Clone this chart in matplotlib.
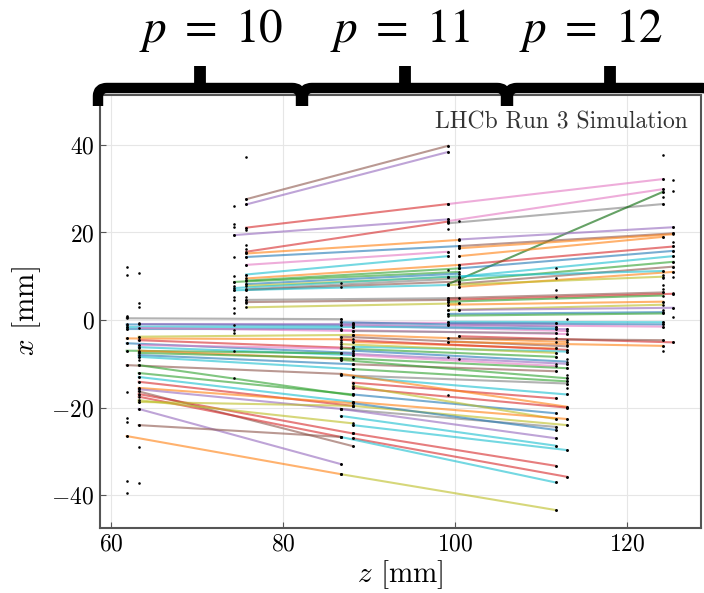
import matplotlib
matplotlib.use('Agg')
import matplotlib.pyplot as plt
from matplotlib.path import Path
from matplotlib.patches import PathPatch

# --- DATA ---
# z position (mm) of every detector layer
LAYER_Z = [61.8, 63.2, 74.3, 75.7, 86.7, 88.1, 99.2, 100.5, 111.7, 113.0, 124.2, 125.4]

# hits (x in mm) seen on each layer, same order as LAYER_Z
HITS_X = [
    [12.2, 10.2, 1.0, 0.6, -1.1, -1.5, -2.0, -4.2, -5.3, -7.0, -10.3, -16.5, -22.4, -23.2, -26.5, -36.7, -39.6],
    [10.7, 4.0, 3.0, -0.7, -3.8, -4.6, -5.7, -6.5, -7.3, -8.4, -9.1, -10.3, -12.1, -13.0, -14.1, -15.5,
     -16.3, -17.2, -18.7, -20.3, -24.0, -29.0, -37.3],
    [26.1, 21.9, 21.3, 19.4, 14.5, 10.1, 8.7, 7.8, 6.9, 5.3, 4.6, 2.7, 1.6, -1.1, -2.3, -3.0, -7.0, -13.3],
    [37.2, 27.6, 26.4, 21.1, 20.6, 17.1, 16.2, 15.2, 14.3, 12.6, 10.3, 9.2, 8.2, 6.9, 5.3, 4.5, 3.8],
    [8.4, 7.6, 0.2, -0.5, -1.2, -2.3, -3.8, -5.0, -6.0, -7.6, -8.7, -9.1, -12.6, -20.3, -21.9, -26.7, -32.9, -35.2],
    [-0.6, -1.5, -2.5, -3.4, -5.0, -6.1, -7.0, -8.0, -10.1, -11.2, -13.0, -14.3, -15.5, -17.0, -18.7, -19.6,
     -24.0, -25.9, -27.0, -28.8],
    [39.8, 38.4, 26.5, 23.0, 22.5, 20.8, 15.6, 14.6, 11.4, 9.9, 8.0, 5.0, 4.2, 3.5, 2.3, 1.4, -0.4, -1.1,
     -5.0, -8.5, -17.2],
    [22.6, 18.3, 16.9, 16.4, 14.6, 12.6, 11.8, 9.9, 8.8, 7.6, 3.8, 2.3, -3.7, -9.0],
    [11.8, 9.5, 6.9, 5.3, -0.7, -1.5, -2.0, -3.0, -4.0, -5.0, -6.5, -7.5, -8.4, -10.0, -11.7, -17.9, -21.3,
     -22.6, -24.4, -25.1, -27.0, -28.7, -33.3, -37.1, -43.4],
    [0.2, -2.1, -3.2, -4.5, -5.8, -6.8, -7.2, -8.8, -10.0, -11.0, -12.5, -13.3, -14.0, -14.5, -15.5, -17.0,
     -19.8, -20.0, -22.6, -24.0, -29.7, -35.8],
    [37.6, 32.2, 29.9, 29.3, 28.2, 26.5, 19.0, 11.2, 10.3, 9.5, 8.0, 7.2, 6.5, 4.2, 2.3, 1.5, -0.4, -1.0,
     -1.5, -4.6, -5.9, -7.0],
    [32.0, 29.5, 21.2, 19.8, 17.9, 16.8, 15.8, 14.6, 13.3, 12.2, 11.0, 9.9, 6.2, 5.9, 2.8, 0.6, -5.1],
]

# track segments: (start layer, x start, end layer, x end)
SEGS_A = [(0, 0.4, 4, 0.2), (0, -1.0, 5, -1.2), (0, -1.5, 5, -1.5), (1, -0.8, 5, -0.8), (0, -2.0, 4, -2.0),
          (1, -1.8, 5, -2.5), (0, -4.2, 5, -4.4), (1, -3.8, 5, -3.4), (1, -4.6, 5, -6.4), (0, -5.3, 5, -7.5),
          (1, -5.7, 4, -6.5), (1, -6.2, 5, -8.0), (0, -7.0, 4, -7.6), (1, -7.0, 5, -9.0), (1, -7.5, 4, -8.7),
          (1, -8.0, 5, -10.1), (1, -8.4, 5, -11.2), (0, -10.3, 4, -12.3), (1, -10.3, 5, -17.2),
          (1, -12.1, 5, -17.0), (1, -13.0, 5, -18.7), (1, -14.1, 5, -19.6), (1, -15.5, 5, -19.0),
          (1, -15.8, 4, -20.3), (1, -16.3, 5, -28.8), (1, -16.9, 5, -25.9), (1, -17.5, 4, -26.7),
          (1, -18.3, 5, -23.6), (1, -18.7, 5, -19.6), (1, -20.3, 4, -32.9), (1, -24.0, 4, -26.7),
          (0, -26.5, 4, -35.2)]
COLORS_A = ['tab:gray', 'tab:blue', 'tab:cyan', 'tab:purple', 'tab:blue', 'tab:pink', 'tab:orange', 'tab:olive',
            'tab:red', 'tab:blue', 'tab:pink', 'tab:cyan', 'tab:green', 'tab:orange', 'tab:green', 'tab:blue',
            'tab:cyan', 'tab:brown', 'tab:green', 'tab:green', 'tab:cyan', 'tab:red', 'tab:orange', 'tab:purple',
            'tab:brown', 'tab:red', 'tab:red', 'tab:olive', 'tab:olive', 'tab:purple', 'tab:brown', 'tab:orange']

SEGS_B = [(3, 27.6, 6, 39.8), (3, 26.4, 6, 38.4), (3, 21.1, 6, 26.5), (2, 19.4, 6, 23.0), (3, 15.6, 6, 22.5),
          (3, 15.2, 7, 18.3), (3, 14.4, 7, 16.9), (3, 12.6, 6, 15.6), (3, 10.4, 6, 14.6), (3, 9.5, 7, 12.6),
          (3, 9.0, 7, 11.8), (2, 8.7, 7, 11.0), (3, 8.2, 7, 10.6), (3, 7.8, 7, 9.9), (2, 7.3, 6, 9.9),
          (3, 7.0, 7, 9.5), (3, 6.9, 7, 8.8), (2, 6.8, 6, 8.0), (3, 4.6, 7, 5.0), (3, 4.1, 6, 4.6),
          (3, 2.9, 7, 3.8)]
COLORS_B = ['tab:brown', 'tab:purple', 'tab:red', 'tab:purple', 'tab:red', 'tab:orange', 'tab:blue', 'tab:pink',
            'tab:cyan', 'tab:orange', 'tab:green', 'tab:green', 'tab:blue', 'tab:olive', 'tab:cyan', 'tab:gray',
            'tab:brown', 'tab:cyan', 'tab:gray', 'tab:brown', 'tab:olive']

SEGS_C = [(5, -0.6, 8, -0.7), (5, -1.0, 9, -2.1), (4, -0.5, 8, -1.5), (4, -1.2, 9, -2.5), (5, -1.5, 8, -2.0),
          (4, -2.3, 9, -3.2), (5, -2.5, 8, -3.0), (5, -3.4, 9, -5.0), (4, -3.8, 9, -6.0), (5, -5.0, 8, -6.5),
          (4, -4.5, 9, -6.8), (5, -6.1, 9, -7.2), (4, -5.5, 8, -7.5), (4, -6.5, 8, -8.4), (5, -7.0, 9, -9.5),
          (4, -7.6, 9, -10.0), (5, -8.0, 8, -10.5), (4, -8.7, 9, -11.0), (5, -10.1, 8, -11.7),
          (4, -9.1, 9, -13.3), (5, -11.2, 9, -14.0), (4, -12.6, 9, -14.5), (5, -13.0, 9, -17.0),
          (5, -14.3, 8, -17.9), (4, -12.3, 9, -19.8), (5, -15.5, 9, -20.0), (5, -17.0, 8, -21.3),
          (5, -15.0, 8, -22.6), (5, -18.7, 9, -22.6), (5, -19.6, 9, -24.0), (4, -20.3, 8, -24.4),
          (5, -19.0, 8, -25.1), (4, -20.3, 8, -27.0), (4, -21.9, 8, -28.7), (5, -24.0, 9, -29.7),
          (5, -25.9, 8, -33.3), (5, -27.0, 9, -35.8), (4, -26.7, 8, -37.1), (4, -35.2, 8, -43.4)]
COLORS_C = ['tab:pink', 'tab:purple', 'tab:blue', 'tab:pink', 'tab:cyan', 'tab:pink', 'tab:gray', 'tab:orange',
            'tab:brown', 'tab:orange', 'tab:red', 'tab:cyan', 'tab:olive', 'tab:green', 'tab:blue', 'tab:purple',
            'tab:pink', 'tab:green', 'tab:brown', 'tab:green', 'tab:green', 'tab:gray', 'tab:cyan', 'tab:red',
            'tab:orange', 'tab:red', 'tab:blue', 'tab:olive', 'tab:orange', 'tab:olive', 'tab:gray', 'tab:blue',
            'tab:purple', 'tab:cyan', 'tab:cyan', 'tab:red', 'tab:red', 'tab:cyan', 'tab:olive']

SEGS_D = [(6, 26.5, 10, 32.2), (6, 22.6, 10, 29.9), (6, 22.1, 10, 26.5), (6, 8.2, 10, 29.3), (7, 18.4, 11, 21.2),
          (7, 16.9, 11, 19.8), (7, 16.4, 11, 19.6), (7, 14.6, 10, 19.0), (7, 12.6, 11, 16.8), (7, 11.8, 11, 15.8),
          (7, 9.9, 11, 14.6), (7, 9.0, 11, 13.3), (7, 8.3, 11, 12.2), (7, 7.6, 11, 11.0), (6, 8.0, 10, 9.9),
          (6, 9.9, 10, 11.2), (6, 5.0, 10, 6.3), (6, 4.6, 11, 6.0), (6, 4.2, 10, 5.6), (6, 3.5, 10, 4.2),
          (6, 2.3, 10, 3.5), (7, 2.3, 11, 2.8), (6, 1.4, 10, 1.8), (6, 1.0, 10, 1.5), (6, -0.4, 10, -0.5),
          (6, -0.8, 10, -1.0), (6, -1.1, 10, -1.5), (7, -3.7, 11, -5.1), (6, -5.0, 10, -5.9),
          (6, -4.2, 10, -4.6)]
COLORS_D = ['tab:pink', 'tab:pink', 'tab:gray', 'darkgreen', 'tab:purple', 'tab:brown', 'tab:orange', 'tab:orange',
            'tab:red', 'tab:blue', 'tab:cyan', 'tab:green', 'tab:brown', 'tab:orange', 'tab:olive', 'tab:cyan',
            'tab:brown', 'tab:red', 'tab:green', 'tab:orange', 'tab:olive', 'tab:purple', 'tab:blue', 'tab:green',
            'tab:cyan', 'tab:blue', 'tab:pink', 'tab:red', 'tab:orange', 'tab:brown']

X_TICKS = [60, 80, 100, 120]
Y_TICKS = [-40, -20, 0, 20, 40]
BRACE_LABELS = [r'$p\ =\ 10$', r'$p\ =\ 11$', r'$p\ =\ 12$']

# --- STYLE ---
plt.rcParams.update({
    'font.family': 'serif',
    'font.serif': ['cmr10'],
    'mathtext.fontset': 'cm',
    'axes.formatter.use_mathtext': True,
})

W, H = 704, 593
fig = plt.figure(figsize=(W / 100, H / 100), dpi=100)
ax = fig.add_axes([100 / W, 1 - 528 / H, 601 / W, 433 / H])

for segs, colors in [(SEGS_A, COLORS_A), (SEGS_B, COLORS_B), (SEGS_C, COLORS_C), (SEGS_D, COLORS_D)]:
    for (s, x0, e, x1), c in zip(segs, colors):
        ax.plot([LAYER_Z[s], LAYER_Z[e]], [x0, x1], color=c, lw=1.5, alpha=0.6, zorder=2)

# hits plus segment end points
hz, hx = [], []
for z, xs in zip(LAYER_Z, HITS_X):
    hz += [z] * len(xs)
    hx += xs
for segs in (SEGS_A, SEGS_B, SEGS_C, SEGS_D):
    for s, x0, e, x1 in segs:
        hz += [LAYER_Z[s], LAYER_Z[e]]
        hx += [x0, x1]
ax.scatter(hz, hx, s=3.5, color='black', zorder=3, linewidths=0)

ax.set_xlim(58.7, 128.6)
ax.set_ylim(-47.5, 51.4)
ax.set_xticks(X_TICKS)
ax.set_yticks(Y_TICKS)
ax.grid(True, color='#e6e6e6', lw=0.8, zorder=0)
ax.set_axisbelow(True)
ax.tick_params(direction='in', length=4, width=0.8, labelsize=17, pad=4, color='#555555')
for sp in ax.spines.values():
    sp.set_color('#555555')
    sp.set_linewidth(1.5)
ax.set_xlabel('$z$ [mm]', fontsize=21, labelpad=2)
ax.set_ylabel('$x$ [mm]', fontsize=21, labelpad=6)
ax.text(0.978, 0.962, 'LHCb Run 3 Simulation', transform=ax.transAxes, ha='right', va='top',
        fontsize=17, color='#333333')

# braces on top, drawn in pixel units of the figure
ov = fig.add_axes([0, 0, 1, 1], zorder=5)
ov.set_xlim(0, W)
ov.set_ylim(H, 0)
ov.axis('off')
ov.patch.set_alpha(0)

brace_edges = [97, 302, 507, 712]
label_x = [211, 400, 591]
for i in range(3):
    xa, xb = brace_edges[i], brace_edges[i + 1]
    xc = (xa + xb) / 2
    verts = [(xa + 1, 106), (xa + 1, 96), (xa + 1, 88), (xa + 10, 88), (xb - 10, 88),
             (xb - 1, 88), (xb - 1, 96), (xb - 1, 106)]
    codes = [Path.MOVETO, Path.LINETO, Path.CURVE3, Path.CURVE3, Path.LINETO,
             Path.CURVE3, Path.CURVE3, Path.LINETO]
    ov.add_patch(PathPatch(Path(verts, codes), fill=False, lw=7.5, color='black',
                           capstyle='butt', joinstyle='round'))
    ov.plot([xc, xc], [88, 66], color='black', lw=8.5, solid_capstyle='butt')
    ov.text(label_x[i], 30, BRACE_LABELS[i], ha='center', va='center', fontsize=34,
            math_fontfamily='stix', color='black')

fig.savefig('out.png', dpi=100)
